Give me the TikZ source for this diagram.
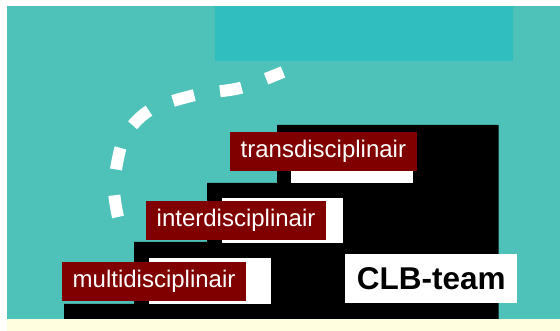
\documentclass[tikz,border=0pt]{standalone}
\usepackage{fontspec}
\setmainfont{Liberation Sans}
\usepackage{tikz}
\definecolor{Sea}{RGB}{78,194,185}
\definecolor{SeaDark}{RGB}{48,190,190}
\definecolor{Cream}{RGB}{255,255,224}
\definecolor{Maroon}{RGB}{128,0,0}
\tikzset{
  lvl/.style={fill=Maroon,text=white,inner xsep=10.5pt,inner ysep=0pt,
              minimum height=39pt,anchor=north west,
              font=\fontsize{24}{28}\selectfont},
  team/.style={fill=white,minimum width=172pt,minimum height=49pt,
               anchor=north west,font=\fontsize{31.5}{36}\selectfont\bfseries},
  trail/.style={draw=white,line width=12pt,dash pattern=on 22pt off 26pt},
}

\begin{document}
\begin{tikzpicture}[x=1pt,y=-1pt]
  \useasboundingbox (0,0) rectangle (560,331);
  % backdrop
  \fill[Sea] (7,6) rectangle (560,319);
  \fill[Cream] (7,319) rectangle (560,331);
  \fill[SeaDark] (215,6) rectangle (513,61);

  % staircase
  \fill[black] (64,319) |- (134,304) |- (207,242) |- (277,183)
    |- (498.5,125) -- (498.5,319) -- cycle;
  \fill[white] (149,258) rectangle (271,304);
  \fill[white] (222,198) rectangle (343,243);
  \fill[white] (291,138) rectangle (412.5,183);

  % levels
  \node[lvl] (multi) at (62,262) {multidisciplinair};
  \node[lvl] (inter) at (146,201) {interdisciplinair};
  \node[lvl] (trans) at (230,132) {transdisciplinair};
  \node[team] (clb) at (345,254) {CLB-team};

  % dashed trail
  \coordinate (t0) at (118,217);
  \coordinate (t1) at (283,72);
  \draw[trail] plot[smooth,tension=0.5] coordinates
    {(t0) (114,185) (124,138) (150,110) (195,95) (240,88) (t1)};
\end{tikzpicture}
\end{document}
